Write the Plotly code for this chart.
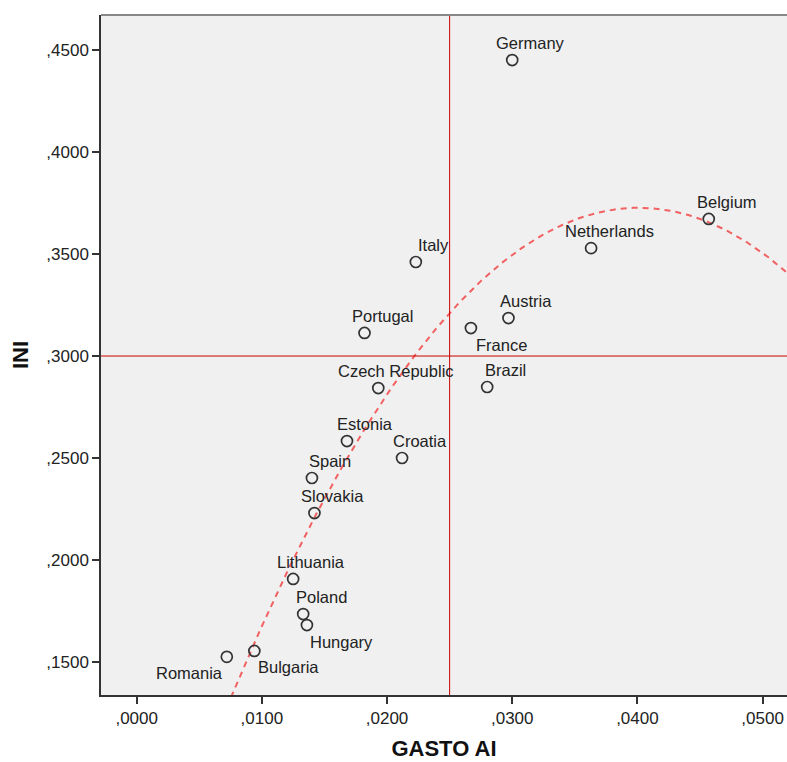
import numpy as np
import plotly.graph_objects as go

# Country data: public spending share (GASTO AI) vs index (INI)
countries = ["Germany", "Belgium", "Netherlands", "Italy", "Austria", "France",
             "Portugal", "Czech Republic", "Brazil", "Estonia", "Croatia", "Spain",
             "Slovakia", "Lithuania", "Poland", "Hungary", "Bulgaria", "Romania"]
gasto_ai = [0.0300, 0.0457, 0.0363, 0.0223, 0.0297, 0.0267,
            0.0182, 0.0193, 0.0280, 0.0168, 0.0212, 0.0140,
            0.0142, 0.0125, 0.0133, 0.0136, 0.0094, 0.0072]
ini = [0.4451, 0.3672, 0.3529, 0.3461, 0.3186, 0.3137,
       0.3113, 0.2843, 0.2848, 0.2583, 0.2500, 0.2402,
       0.2230, 0.1907, 0.1735, 0.1681, 0.1554, 0.1525]

# Reference lines
x_ref = 0.025
y_ref = 0.30

# Tick labels
x_ticks = [0.0, 0.01, 0.02, 0.03, 0.04, 0.05]
x_ticktext = [",0000", ",0100", ",0200", ",0300", ",0400", ",0500"]
y_ticks = [0.15, 0.20, 0.25, 0.30, 0.35, 0.40, 0.45]
y_ticktext = [",1500", ",2000", ",2500", ",3000", ",3500", ",4000", ",4500"]

x_range = [-0.00285, 0.05195]
y_range = [0.1338, 0.4672]

# Label placement (pixel offsets from each point)
label_offsets = {
    "France": (31, 17), "Hungary": (35, 17),
    "Bulgaria": (34, 16), "Romania": (-37, 16),
}
default_offset = (18, -17)

FONT = "Liberation Sans, Arial, sans-serif"

# Quadratic fit
coef = np.polyfit(gasto_ai, ini, 2)
xs = np.linspace(x_range[0], x_range[1], 300)
ys = np.polyval(coef, xs)

fig = go.Figure()

fig.add_trace(go.Scatter(
    x=xs, y=ys, mode="lines",
    line=dict(color="#f26161", width=2, dash="6px,5px"),
    hoverinfo="skip", showlegend=False,
))

fig.add_trace(go.Scatter(
    x=gasto_ai, y=ini, mode="markers",
    marker=dict(symbol="circle-open", size=11, color="#333333",
                line=dict(width=1.7, color="#333333")),
    text=countries, showlegend=False,
))

for name, xv, yv in zip(countries, gasto_ai, ini):
    dx, dy = label_offsets.get(name, default_offset)
    fig.add_annotation(
        x=xv, y=yv, text=name, showarrow=False,
        xshift=dx, yshift=-dy,
        font=dict(family=FONT, size=16.5, color="#222222"),
        xanchor="center", yanchor="middle",
    )

# Reference lines
fig.add_shape(type="line", xref="x", yref="paper", x0=x_ref, x1=x_ref, y0=0, y1=1,
              line=dict(color="#cc0000", width=1))
fig.add_shape(type="line", xref="paper", yref="y", x0=0, x1=1, y0=y_ref, y1=y_ref,
              line=dict(color="#cc0000", width=1))
# Top frame
fig.add_shape(type="line", xref="paper", yref="paper", x0=0, x1=1, y0=1, y1=1,
              line=dict(color="#888888", width=2))

fig.update_layout(
    width=787, height=762,
    margin=dict(l=101, r=0, t=15, b=67),
    paper_bgcolor="white", plot_bgcolor="#f0f0f0",
    font=dict(family=FONT, color="#222222"),
    showlegend=False,
)

fig.update_xaxes(
    range=x_range, tickvals=x_ticks, ticktext=x_ticktext,
    showgrid=False, zeroline=False,
    showline=True, linecolor="#333333", linewidth=1.5,
    ticks="outside", ticklen=7, tickwidth=1.5, tickcolor="#333333",
    tickfont=dict(family=FONT, size=17, color="#222222"),
    title=dict(text="<b>GASTO AI</b>", font=dict(family=FONT, size=22, color="#111111"),
               standoff=13),
)
fig.update_yaxes(
    range=y_range, tickvals=y_ticks, ticktext=y_ticktext,
    showgrid=False, zeroline=False,
    showline=True, linecolor="#333333", linewidth=1.5,
    ticks="outside", ticklen=7, tickwidth=1.5, tickcolor="#333333",
    tickfont=dict(family=FONT, size=17, color="#222222"),
    title=dict(text="<b>INI</b>", font=dict(family=FONT, size=22, color="#111111"),
               standoff=12),
)

fig.write_html("out.html")
